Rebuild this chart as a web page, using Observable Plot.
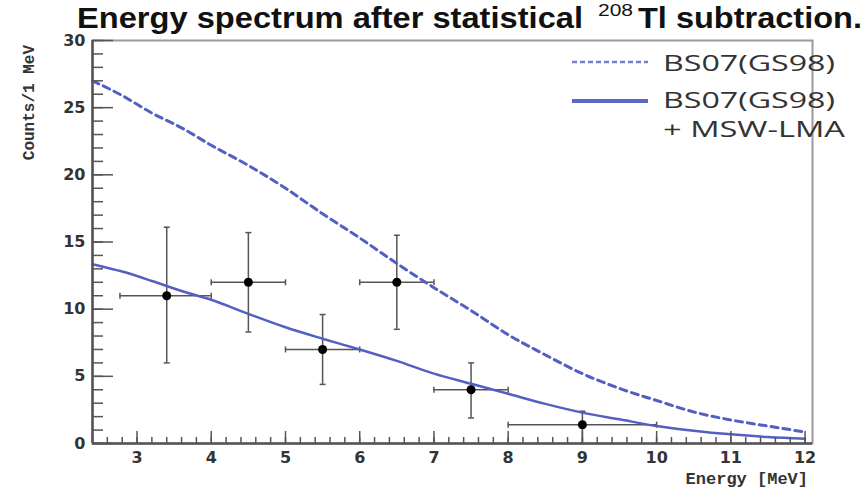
<!DOCTYPE html>
<html><head><meta charset="utf-8">
<script src="https://cdn.jsdelivr.net/npm/d3@7"></script>
<script src="https://cdn.jsdelivr.net/npm/@observablehq/plot@0.6"></script>
<style>
body{margin:0;background:#fff;}
#wrap{position:relative;width:863px;height:490px;overflow:hidden;background:#fff;}
#wrap svg{position:absolute;left:0;top:0;}
</style></head><body><div id="wrap"></div>
<script>
// ---- data ----
const energy = [3.4, 4.5, 5.5, 6.5, 7.5, 9.0];
const binLo  = [2.77, 4.0, 5.0, 6.0, 7.0, 8.0];
const binHi  = [4.0, 5.0, 6.0, 7.0, 8.0, 10.0];
const counts = [11, 12, 7, 12, 4, 1.4];
const errLo  = [6.0, 8.3, 4.4, 8.5, 1.9, 0.0];
const errHi  = [16.1, 15.7, 9.6, 15.5, 6.0, 2.4];

const modelEnergy = [2.4, 2.8, 3.2, 3.6, 4.0, 4.5, 5.0, 5.5, 6.0, 6.5, 7.0, 7.5, 8.0, 8.5, 9.0, 9.5, 10.0, 10.5, 11.0, 11.5, 12.0];
const bs07   = [27.0, 25.9, 24.6, 23.5, 22.2, 20.7, 19.0, 17.1, 15.3, 13.4, 11.6, 9.9, 8.1, 6.6, 5.2, 4.1, 3.2, 2.35, 1.75, 1.3, 0.85];
const mswLma = [13.35, 12.8, 12.1, 11.35, 10.7, 9.65, 8.65, 7.8, 7.0, 6.15, 5.2, 4.45, 3.7, 2.95, 2.3, 1.8, 1.3, 0.95, 0.68, 0.48, 0.35];

const xDomain = [2.4, 12.1];
const yDomain = [0, 30];
const xTickLabels = [3, 4, 5, 6, 7, 8, 9, 10, 11, 12];
const yTickLabels = [0, 5, 10, 15, 20, 25, 30];
const xMinor = d3.range(2.4, 12.1, 0.2).map(v => +v.toFixed(1));
const yMinor = d3.range(0, 30.5, 1);

const titleText = "Energy spectrum after statistical";
const titleSup = "208";
const titleTail = "Tl subtraction.";
const legendLabels = ["BS07(GS98)", "BS07(GS98)", "+ MSW-LMA"];
const xLabel = "Energy [MeV]";
const yLabel = "Counts/1 MeV";

// ---- tables ----
const pts = energy.map((e, i) => ({e, c: counts[i], lo: binLo[i], hi: binHi[i], elo: errLo[i], ehi: errHi[i]}));
const model = modelEnergy.map((e, i) => ({e, bs: bs07[i], msw: mswLma[i]}));

const vCap = {draw(ctx, size) { const h = Math.sqrt(size / Math.PI); ctx.moveTo(0, -h); ctx.lineTo(0, h); }};
const hCap = {draw(ctx, size) { const h = Math.sqrt(size / Math.PI); ctx.moveTo(-h, 0); ctx.lineTo(h, 0); }};

const errCol = "#555";
const blue = "#5260c2";
const tickFont = {fontSize: 16, fontWeight: "bold", fontFamily: "DejaVu Sans", fill: "#333"};

const chart = Plot.plot({
  width: 863, height: 490,
  marginLeft: 92, marginRight: 51, marginTop: 40, marginBottom: 47,
  x: {domain: xDomain},
  y: {domain: yDomain},
  style: {background: "white", fontFamily: "DejaVu Sans", overflow: "visible"},
  marks: [
    Plot.frame({stroke: "#9a9a9a", strokeWidth: 2}),
    // error bars
    Plot.ruleY(pts, {y: "c", x1: "lo", x2: "hi", stroke: errCol, strokeWidth: 1.5}),
    Plot.ruleX(pts, {x: "e", y1: "elo", y2: "ehi", stroke: errCol, strokeWidth: 1.5}),
    Plot.dot(pts, {x: "lo", y: "c", symbol: vCap, r: 3, fill: "none", stroke: errCol, strokeWidth: 1.5}),
    Plot.dot(pts, {x: "hi", y: "c", symbol: vCap, r: 3, fill: "none", stroke: errCol, strokeWidth: 1.5}),
    Plot.dot(pts, {x: "e", y: "elo", symbol: hCap, r: 3, fill: "none", stroke: errCol, strokeWidth: 1.5}),
    Plot.dot(pts, {x: "e", y: "ehi", symbol: hCap, r: 3, fill: "none", stroke: errCol, strokeWidth: 1.5}),
    // model curves
    Plot.line(model, {x: "e", y: "bs", stroke: blue, strokeWidth: 3, strokeDasharray: "7,5", curve: "monotone-x"}),
    Plot.line(model, {x: "e", y: "msw", stroke: blue, strokeWidth: 2.5, curve: "monotone-x"}),
    // data points
    Plot.dot(pts, {x: "e", y: "c", r: 4.5, fill: "black"}),
    // axes (inward ROOT-style ticks)
    Plot.axisY(yTickLabels, {tickSize: -21, fill: "none", stroke: "#555", strokeWidth: 1.5, label: null}),
    Plot.axisY(yMinor, {tickSize: -11, fill: "none", stroke: "#555", strokeWidth: 1.5, label: null}),
    Plot.axisY(yTickLabels, {tickSize: 0, tickPadding: 7, label: null, ...tickFont}),
    Plot.axisX(xTickLabels, {tickSize: -12, fill: "none", stroke: "#555", strokeWidth: 1.5, label: null}),
    Plot.axisX(xMinor, {tickSize: -6, fill: "none", stroke: "#555", strokeWidth: 1.5, label: null}),
    Plot.axisX(xTickLabels, {tickSize: 0, tickPadding: 8, label: null, ...tickFont}),
    Plot.ruleY([yDomain[0]], {stroke: "#555", strokeWidth: 2.5}),
    Plot.ruleX([xDomain[0]], {stroke: "#555", strokeWidth: 2.5})
  ]
});
document.getElementById("wrap").appendChild(chart);

// ---- title, legend, axis titles ----
const ns = "http://www.w3.org/2000/svg";
const ov = document.createElementNS(ns, "svg");
ov.setAttribute("width", 863); ov.setAttribute("height", 490);
ov.style.pointerEvents = "none";
function t(txt, attrs) {
  const el = document.createElementNS(ns, "text");
  el.textContent = txt;
  for (const k in attrs) el.setAttribute(k, attrs[k]);
  ov.appendChild(el);
}
function ln(attrs) {
  const el = document.createElementNS(ns, "line");
  for (const k in attrs) el.setAttribute(k, attrs[k]);
  ov.appendChild(el);
}
const titleFont = {"font-family": "Liberation Sans, Arial, sans-serif", "font-weight": "bold", fill: "#111"};
t(titleText, {...titleFont, x: 77, y: 28, "font-size": 29, textLength: 506, lengthAdjust: "spacingAndGlyphs"});
t(titleSup, {"font-family": "Liberation Sans, Arial, sans-serif", fill: "#111", x: 598, y: 16, "font-size": 16, textLength: 35, lengthAdjust: "spacingAndGlyphs"});
t(titleTail, {...titleFont, x: 638, y: 28, "font-size": 29, textLength: 224, lengthAdjust: "spacingAndGlyphs"});

ln({x1: 572, x2: 648, y1: 62, y2: 62, stroke: "#7480d2", "stroke-width": 2.5, "stroke-dasharray": "5,3"});
ln({x1: 572, x2: 648, y1: 101, y2: 101, stroke: "#5c68c6", "stroke-width": 4});
const legFont = {"font-family": "Open Sans, sans-serif", "font-size": 21, fill: "#333", lengthAdjust: "spacingAndGlyphs"};
t(legendLabels[0], {...legFont, x: 663, y: 71, textLength: 172});
t(legendLabels[1], {...legFont, x: 663, y: 108, textLength: 172});
t(legendLabels[2], {...legFont, x: 663, y: 137, textLength: 182});

const monoFont = {"font-family": "Liberation Mono, DejaVu Sans Mono, monospace", "font-weight": "bold", fill: "#333"};
t(xLabel, {...monoFont, x: 808, y: 484, "font-size": 17, "text-anchor": "end"});
t(yLabel, {...monoFont, transform: "translate(34,45) rotate(-90)", "font-size": 16, "text-anchor": "end"});
document.getElementById("wrap").appendChild(ov);
</script></body></html>
